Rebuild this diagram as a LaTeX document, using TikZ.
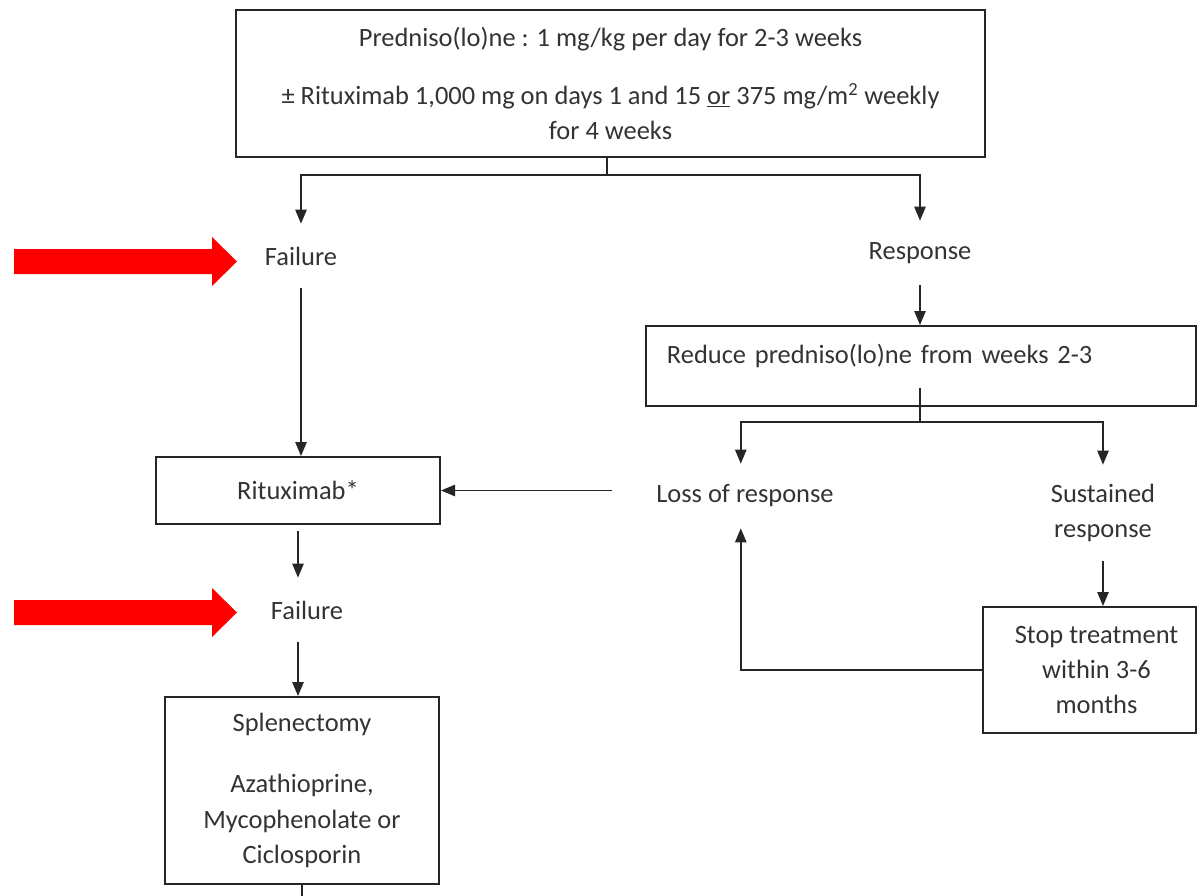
\documentclass[tikz,border=0pt]{standalone}
\usepackage{fontspec}
\setmainfont{Carlito}
\usetikzlibrary{arrows.meta,positioning}

\begin{document}
\begin{tikzpicture}[
  x=0.025cm, y=-0.025cm,
  font=\fontsize{18.8}{25}\selectfont,
  text=black!80,
  box/.style={draw=black!85, line width=1.3pt, align=center, inner sep=2pt},
  lbl/.style={align=center, inner sep=0pt, minimum height=1.6cm},
  lin/.style={draw=black!85, line width=1.3pt},
  arr/.style={lin, -{Triangle[length=10pt,width=8pt]}}
]
\useasboundingbox (0,0) rectangle (1197,895);

% boxes
\node[box, minimum width=18.73cm, minimum height=3.68cm] (start) at (610.5,83.5)
  {Predniso(lo)ne : 1 mg/kg per day for 2-3 weeks\\[0.575cm]
   ± Rituximab 1,000 mg on days 1 and 15 \underline{or} 375 mg/m\textsuperscript{2} weekly\\
   for 4 weeks};
\node[box, align=left, text width=12.7cm, inner xsep=0.525cm, minimum height=2cm, text depth=17pt] (reduce) at (921,366)
  {Reduce predniso(lo)ne from weeks 2-3};
\node[box, minimum width=5.33cm, minimum height=3.15cm] (stop) at (1089.5,670)
  {\hspace*{0.35cm}Stop treatment\\\hspace*{0.35cm}within 3-6\\\hspace*{0.35cm}months};
\node[box, minimum width=7.1cm, minimum height=1.675cm] (ritux) at (298,490.5) {Rituximab*};
\node[box, minimum width=6.85cm, minimum height=4.675cm] (splen) at (302,790.5)
  {Splenectomy\\[0.65cm]Azathioprine,\\Mycophenolate or\\Ciclosporin};

% labels
\node[lbl] (fail1) at (301,256) {Failure};
\node[lbl] (resp) at (920,253) {Response};
\node[lbl] (loss) at (745,496) {Loss of response};
\node[lbl, minimum height=2.4cm] (sust) at (1103,513) {Sustained\\response};
\node[lbl] (fail2) at (307,610) {Failure};

% connectors
\coordinate (j1) at (607,175);
\coordinate (j2) at (920,422);
\draw[lin] (start.south -| j1) -- (j1);
\draw[arr] (j1) -| (fail1.north);
\draw[arr] (j1) -| (resp.north);
\draw[arr] (resp.south) -- (resp.south |- reduce.north);
\draw[lin] ([yshift=0.475cm]reduce.south -| j2) -- (j2);
\draw[arr] (j2) -| ([xshift=-3pt]loss.north);
\draw[arr] (j2) -| (sust.north);
\draw[arr] (sust.south) -- (sust.south |- stop.north);
\draw[arr] (stop.west) -| ([xshift=-3pt]loss.south);
\draw[arr] ([xshift=-1.1cm]ritux.east -| loss.west) -- (ritux.east);
\draw[arr] (fail1.south) -- (fail1.south |- ritux.north);
\draw[arr] ([yshift=-0.15cm]ritux.south) -- (ritux.south |- fail2.north);
\draw[arr] (fail2.south -| ritux.south) -- (ritux.south |- splen.north);
\draw[lin] (splen.south) -- ++(0,11);

% red markers
\fill[red] (14,249) -- (212,249) -- (212,237) -- (237,261.5) -- (212,286) -- (212,274) -- (14,274) -- cycle;
\fill[red] (14,600) -- (212,600) -- (212,588) -- (237,612.5) -- (212,637) -- (212,625) -- (14,625) -- cycle;
\end{tikzpicture}
\end{document}
